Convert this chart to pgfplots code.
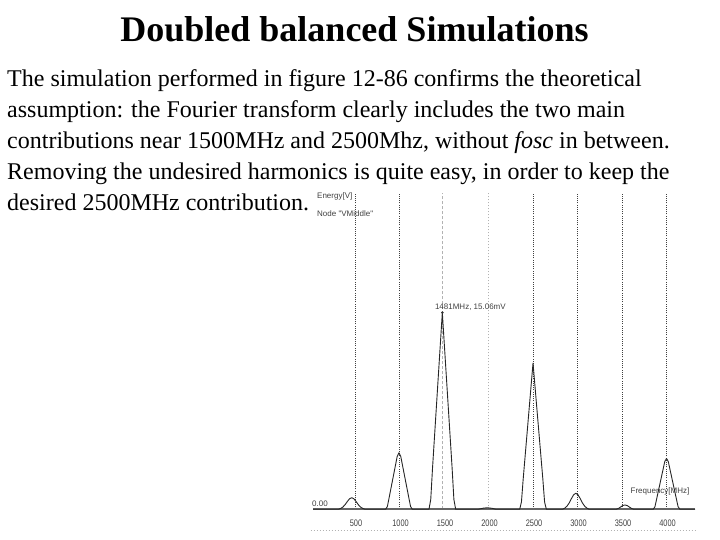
\documentclass[border=0pt]{standalone}
\usepackage{fontspec}
\usepackage{graphicx}
\setmainfont{Liberation Serif}
\newfontfamily\chartfont{Liberation Sans}
\usepackage{pgfplots}
\pgfplotsset{compat=1.18}
\newcommand{\tl}[1]{\scalebox{0.78}[1]{#1}}
\begin{document}
\begin{tikzpicture}[
  gridd/.style={black!75, line width=0.9pt, dash pattern=on 1pt off 1.2pt},
  gridl/.style={black!30, line width=0.8pt, dash pattern=on 1pt off 2pt},
  gridm/.style={black!30, line width=0.8pt, dash pattern=on 3pt off 2pt},
  lab/.style={font=\chartfont\fontsize{8}{9}\selectfont, text=black!75, inner sep=0pt},
]
\path[use as bounding box] (0pt,0pt) rectangle (720pt,540pt);
\node[anchor=base, inner sep=0pt] at (354.5pt,498pt) {\fontsize{36}{43}\selectfont\bfseries Doubled balanced Simulations};
\begin{scope}[every node/.style={anchor=base west, inner sep=0pt, font=\fontsize{24}{31}\selectfont}]
\node at (7pt,453pt) {The simulation performed in figure 12-86 confirms the theoretical};
\node at (7pt,422pt) {assumption: the Fourier transform clearly includes the two main};
\node at (7pt,391pt) {contributions near 1500MHz and 2500Mhz, without \textit{fosc} in between.};
\node at (7pt,360pt) {Removing the undesired harmonics is quite easy, in order to keep the};
\node at (7pt,329pt) {desired 2500MHz contribution.};
\end{scope}
\begin{axis}[
  at={(310.5pt,30.7pt)}, anchor=south west,
  scale only axis, width=384.5pt, height=316.3pt,
  xmin=0, xmax=4320, ymin=0, ymax=24.22,
  clip=false,
  axis line style={draw=none},
  major tick length=0pt,
  ytick=\empty,
  xtick={500,1000,1500,2000,2500,3000,3500,4000},
  xticklabels={\tl{500},\tl{1000},\tl{1500},\tl{2000},\tl{2500},\tl{3000},\tl{3500},\tl{4000}},
  xticklabel style={anchor=center, yshift=-14pt, xshift=1pt, font=\chartfont\fontsize{9.5}{10}\selectfont, text=black!75},
]
\draw[gridd] (axis cs:500,0) -- (axis cs:500,24.22);
\draw[gridd] (axis cs:1000,0) -- (axis cs:1000,24.22);
\draw[gridm] (axis cs:1481,0) -- (axis cs:1481,24.22);
\draw[gridl] (axis cs:2000,0) -- (axis cs:2000,24.22);
\draw[gridd] (axis cs:2500,0) -- (axis cs:2500,24.22);
\draw[gridd] (axis cs:3000,0) -- (axis cs:3000,24.22);
\draw[gridd] (axis cs:3500,0) -- (axis cs:3500,24.22);
\draw[gridd] (axis cs:4000,0) -- (axis cs:4000,24.22);
\draw[black!30, line width=0.6pt, dash pattern=on 1pt off 2pt] (axis cs:0,-1.585) -- (axis cs:4340,-1.585);

\addplot[black!60, line width=1.6pt] coordinates {(30,0) (4320,0)};

\addplot[black!85, line width=0.9pt, line join=round] coordinates {
(30,0) (313,0) (338,0.062) (363,0.169) (388,0.347) (413,0.587) (438,0.801) (463,0.89) (488,0.801) (513,0.587) (538,0.347) (563,0.169) (588,0.062) (613,0)
(844,0) (864,0.22) (884,0.91) (974,4.05) (994,4.33) (1014,4.05) (1104,0.91) (1124,0.22) (1144,0)
(1331,0) (1351,0.75) (1371,3.16) (1481,15.06) (1591,3.16) (1611,0.75) (1631,0)
(1885,0) (1935,0.08) (1985,0.12) (2035,0.08) (2085,0)
(2350,0) (2370,0.56) (2390,2.35) (2500,11.2) (2610,2.35) (2630,0.56) (2650,0)
(2831,0) (2856,0.086) (2881,0.234) (2906,0.48) (2931,0.812) (2956,1.107) (2981,1.23) (3006,1.107) (3031,0.812) (3056,0.48) (3081,0.234) (3106,0.086) (3131,0)
(3433,0) (3458,0.06) (3483,0.17) (3508,0.29) (3533,0.33) (3558,0.29) (3583,0.17) (3608,0.06) (3633,0)
(3850,0) (3870,0.2) (3890,0.82) (3980,3.65) (4000,3.9) (4020,3.65) (4110,0.82) (4130,0.2) (4150,0)
(4320,0)
};
\addplot[only marks, mark=*, mark size=1.1pt, black!80] coordinates {(1481,15.06)};

\node[lab, anchor=west] at (axis cs:1481,15.06) [xshift=-7.5pt, yshift=5.7pt] {1481MHz, 15.06mV};
\node[lab, anchor=west] at (axis cs:73,23.94) {Energy[V]};
\node[lab, anchor=west] at (axis cs:73,22.61) {Node "VMiddle"};
\node[lab, anchor=center] at (axis cs:107,0.41) {0.00};
\node[lab, anchor=west] at (axis cs:3595,1.35) {Frequency[MHz]};
\end{axis}
\end{tikzpicture}
\end{document}
